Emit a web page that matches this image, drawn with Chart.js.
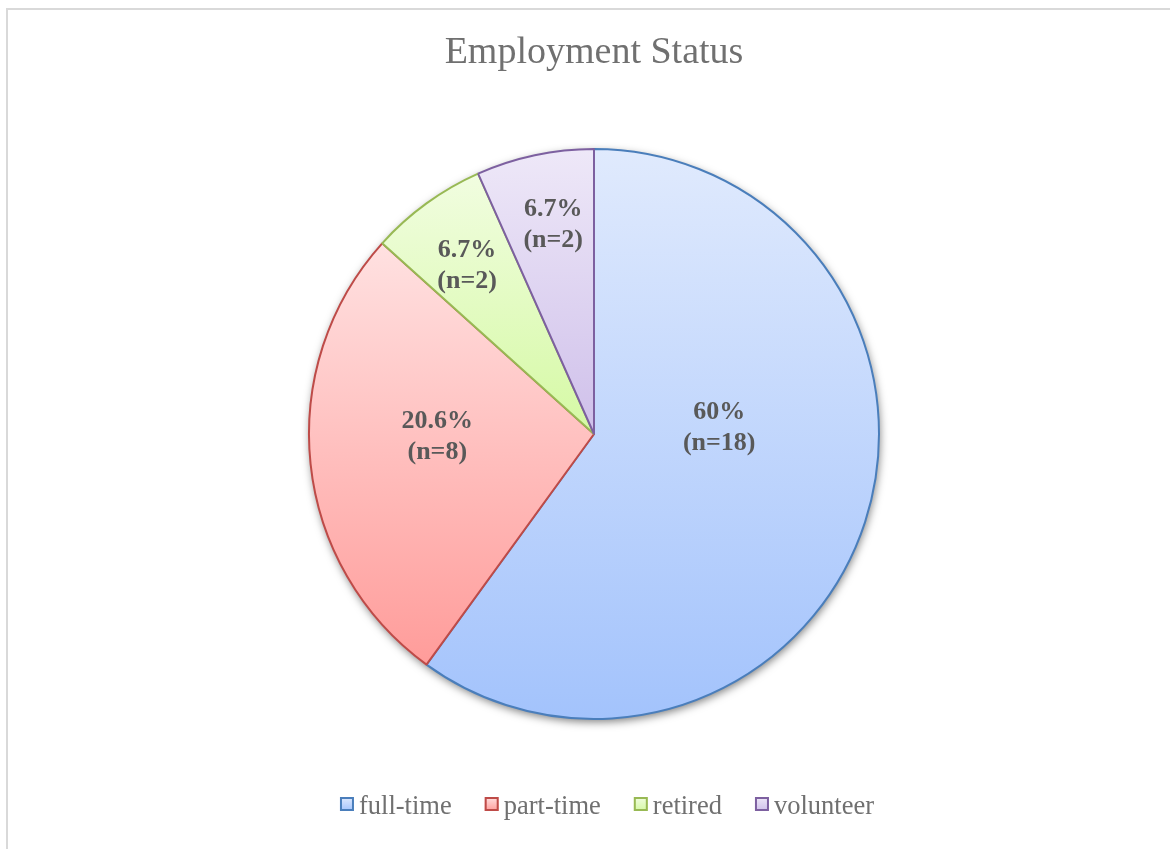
<!DOCTYPE html>
<html>
<head>
<meta charset="utf-8">
<title>Employment Status</title>
<script src="https://cdn.jsdelivr.net/npm/chart.js@4.4.1/dist/chart.umd.min.js"></script>
<style>
  html, body { margin: 0; padding: 0; background: #fff; }
  #wrap { width: 1170px; height: 849px; }
</style>
</head>
<body>
<div id="wrap"><canvas id="chart" width="1170" height="849"></canvas></div>
<script>
// Dados do gráfico
const categorias = ['full-time', 'part-time', 'retired', 'volunteer'];
const contagens = [18, 8, 2, 2];
const percentuais = ['60%', '20.6%', '6.7%', '6.7%'];

// Cores: gradiente vertical (topo -> base) e borda de cada fatia
const coresTopo = ['#e0eafd', '#ffe1e1', '#f1fde0', '#eee8f8'];
const coresBase = ['#a3c3fc', '#ff9c9a', '#d5f9a4', '#cfc0ea'];
const coresBorda = ['#4a7ebb', '#be4b48', '#98b954', '#7d60a0'];

// Posição dos rótulos: ângulo (graus, horário a partir do topo) e fração do raio
const rotuloAngulo = [87, 269, 323, 349];
const rotuloRaio = [0.44, 0.55, 0.74, 0.75];

const RAIO = 285;
const FONTE = '"Liberation Serif", "Times New Roman", serif';
const COR_TEXTO = '#595959';
const COR_TEXTO_CLARO = '#707070';

// Gradiente de cada fatia, do ponto mais alto ao mais baixo dela
function gradienteFatia(context) {
    const i = context.dataIndex;
    const area = context.chart.chartArea;
    if (!area) return coresTopo[i];
    const cy = (area.top + area.bottom) / 2;
    const total = contagens.reduce((a, b) => a + b, 0);
    let inicio = -Math.PI / 2;
    for (let k = 0; k < i; k++) inicio += contagens[k] / total * 2 * Math.PI;
    const fim = inicio + contagens[i] / total * 2 * Math.PI;

    const ys = [cy, cy + RAIO * Math.sin(inicio), cy + RAIO * Math.sin(fim)];
    if (inicio <= Math.PI / 2 + 1e-6 && fim >= Math.PI / 2 - 1e-6) ys.push(cy + RAIO);
    if (inicio <= -Math.PI / 2 + 1e-6 || fim >= 1.5 * Math.PI - 1e-6) ys.push(cy - RAIO);

    const g = context.chart.ctx.createLinearGradient(0, Math.min(...ys), 0, Math.max(...ys));
    g.addColorStop(0, coresTopo[i]);
    g.addColorStop(1, coresBase[i]);
    return g;
}

// Fundo branco e moldura cinza
const moldura = {
    id: 'moldura',
    beforeDraw(chart) {
        const ctx = chart.ctx;
        ctx.save();
        ctx.fillStyle = '#fff';
        ctx.fillRect(0, 0, chart.width, chart.height);
        ctx.strokeStyle = '#d9d9d9';
        ctx.lineWidth = 2;
        ctx.beginPath();
        ctx.moveTo(7, chart.height);
        ctx.lineTo(7, 9);
        ctx.lineTo(chart.width, 9);
        ctx.stroke();
        ctx.restore();
    }
};

// Sombra por baixo da pizza
const sombraPizza = {
    id: 'sombraPizza',
    beforeDatasetsDraw(chart) {
        const arco = chart.getDatasetMeta(0).data[0];
        if (!arco) return;
        const ctx = chart.ctx;
        ctx.save();
        ctx.shadowColor = 'rgba(0, 0, 0, 0.5)';
        ctx.shadowBlur = 8;
        ctx.shadowOffsetX = 1;
        ctx.shadowOffsetY = 3;
        ctx.beginPath();
        ctx.arc(arco.x, arco.y, arco.outerRadius, 0, Math.PI * 2);
        ctx.fillStyle = '#fff';
        ctx.fill();
        ctx.restore();
    }
};

// Rótulos de porcentagem e contagem dentro das fatias
const rotulos = {
    id: 'rotulos',
    afterDatasetsDraw(chart) {
        const meta = chart.getDatasetMeta(0);
        const ctx = chart.ctx;
        ctx.save();
        ctx.font = 'bold 26px ' + FONTE;
        ctx.fillStyle = COR_TEXTO;
        ctx.textAlign = 'center';
        ctx.textBaseline = 'middle';
        meta.data.forEach((arco, i) => {
            const ang = rotuloAngulo[i] * Math.PI / 180;
            const d = rotuloRaio[i] * arco.outerRadius;
            const x = arco.x + d * Math.sin(ang);
            const y = arco.y - d * Math.cos(ang);
            ctx.fillText(percentuais[i], x, y - 15);
            ctx.fillText('(n=' + contagens[i] + ')', x, y + 16);
        });
        ctx.restore();
    }
};

// Legenda na parte de baixo
const legenda = {
    id: 'legenda',
    afterDraw(chart) {
        const ctx = chart.ctx;
        ctx.save();
        ctx.font = '26.5px ' + FONTE;
        const caixa = 14, folga = 5, espaco = 33;
        const larguras = categorias.map(t => caixa + folga + ctx.measureText(t).width);
        const total = larguras.reduce((a, b) => a + b, 0) + espaco * (categorias.length - 1);
        let x = 607 - total / 2;
        const yCaixa = 797;
        categorias.forEach((texto, i) => {
            const g = ctx.createLinearGradient(0, yCaixa, 0, yCaixa + caixa);
            g.addColorStop(0, coresTopo[i]);
            g.addColorStop(1, coresBase[i]);
            ctx.fillStyle = g;
            ctx.fillRect(x, yCaixa, caixa, caixa);
            ctx.strokeStyle = coresBorda[i];
            ctx.lineWidth = 2;
            ctx.strokeRect(x + 1, yCaixa + 1, caixa - 2, caixa - 2);
            ctx.fillStyle = COR_TEXTO_CLARO;
            ctx.textAlign = 'left';
            ctx.textBaseline = 'alphabetic';
            ctx.fillText(texto, x + caixa + folga, 814);
            x += larguras[i] + espaco;
        });
        ctx.restore();
    }
};

new Chart(document.getElementById('chart'), {
    type: 'pie',
    data: {
        labels: categorias,
        datasets: [{
            data: contagens,
            backgroundColor: gradienteFatia,
            borderColor: coresBorda,
            borderWidth: 2,
            hoverOffset: 0,
            radius: RAIO
        }]
    },
    options: {
        responsive: false,
        animation: false,
        layout: { padding: { left: 18, top: 0, right: 0, bottom: 130 } },
        plugins: {
            legend: { display: false },
            tooltip: { enabled: false },
            title: {
                display: true,
                text: 'Employment Status',
                color: COR_TEXTO_CLARO,
                font: { family: FONTE, size: 38, weight: 'normal', lineHeight: 1.2 },
                padding: { top: 30, bottom: 73.4 }
            }
        }
    },
    plugins: [moldura, sombraPizza, rotulos, legenda]
});
</script>
</body>
</html>
